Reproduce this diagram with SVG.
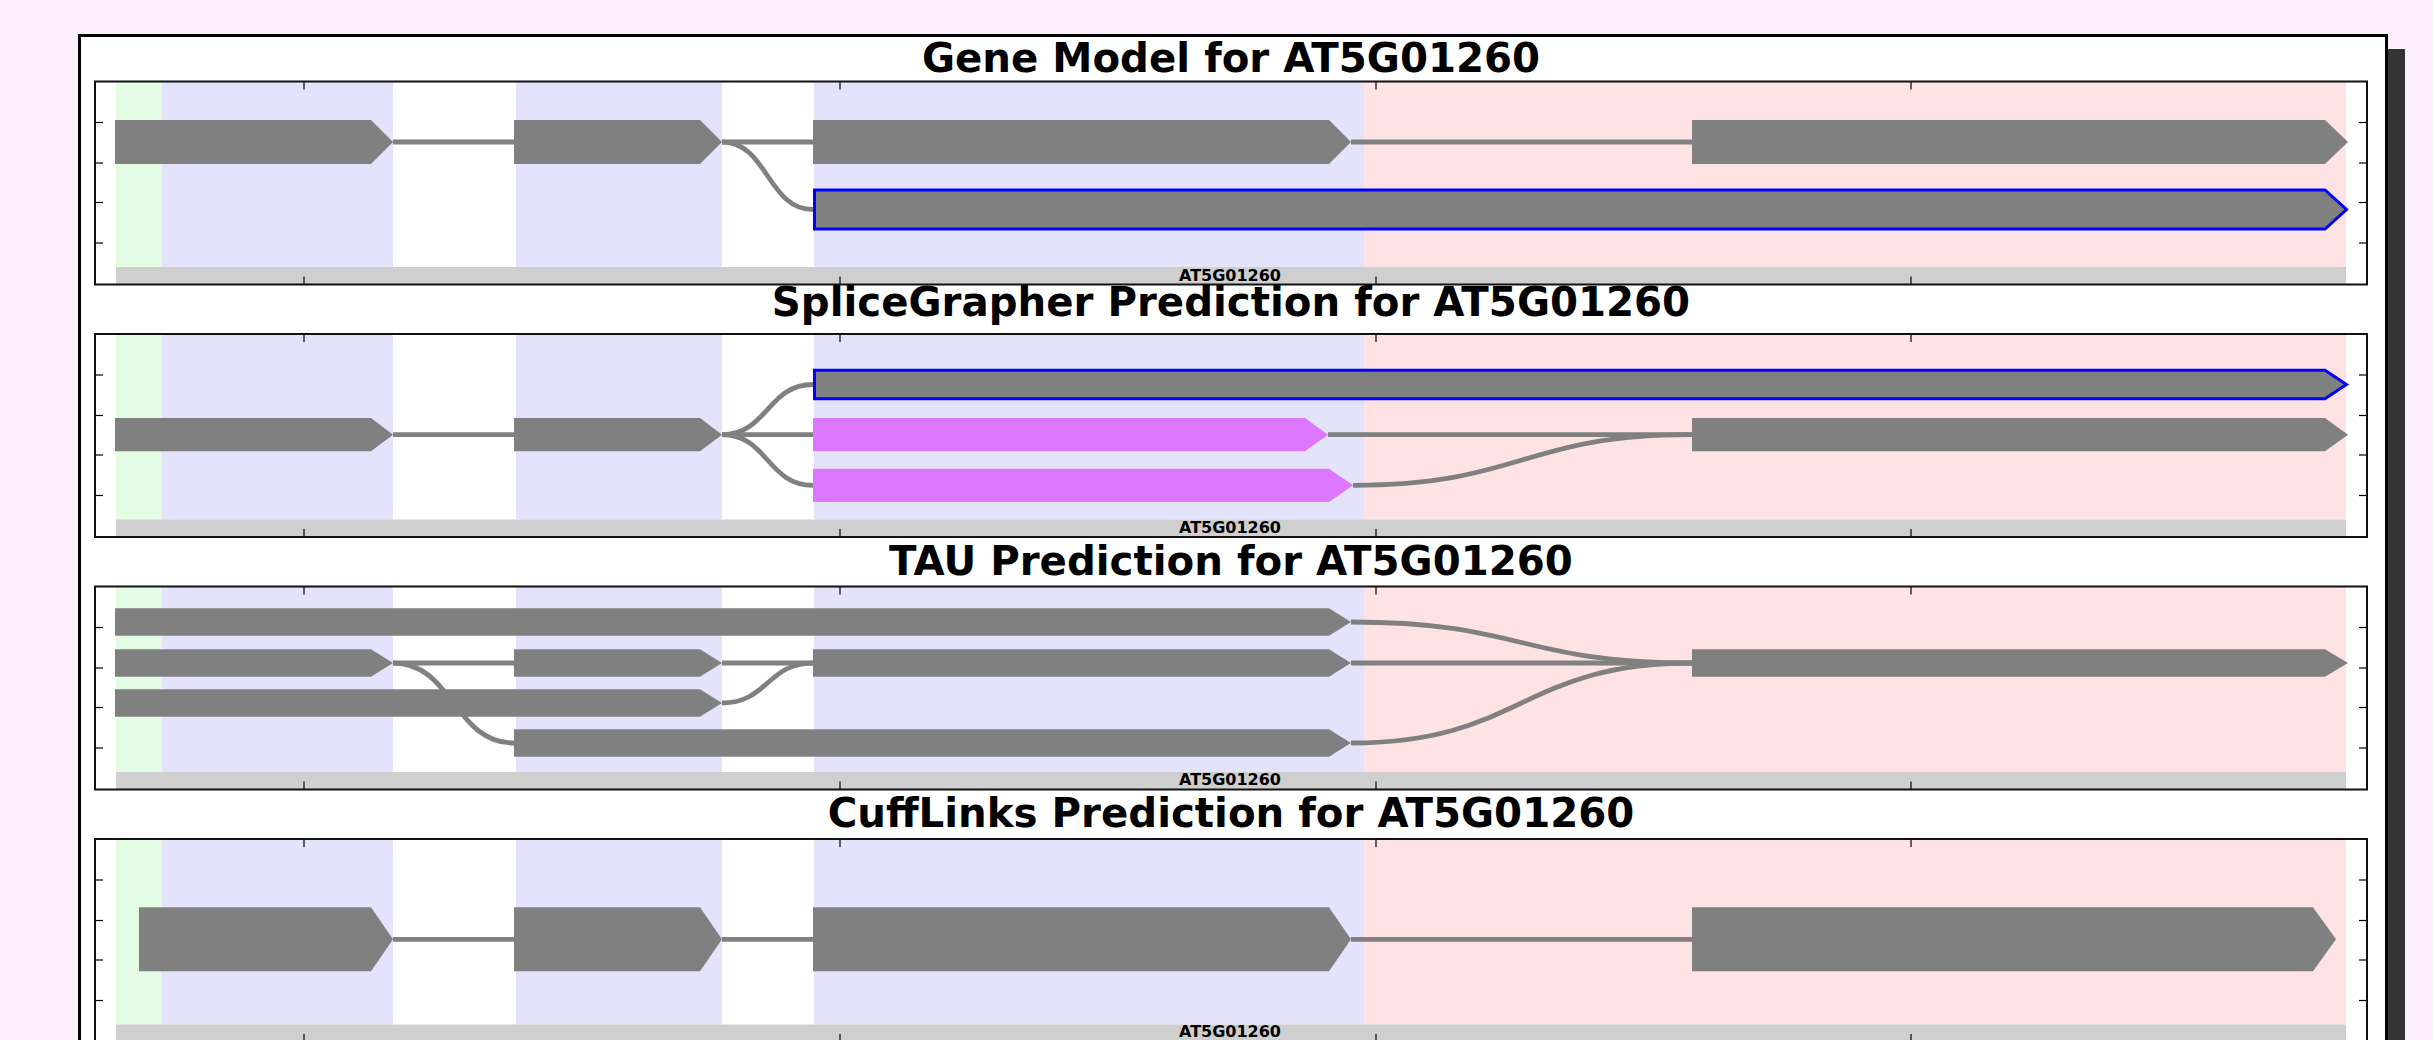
<svg xmlns="http://www.w3.org/2000/svg" xmlns:xlink="http://www.w3.org/1999/xlink" width="2433" height="1040" viewBox="0 0 2433 1040">
<style>
.title{font-family:"DejaVu Sans","Liberation Sans",sans-serif;font-weight:bold;font-size:40.3px;fill:#000;text-anchor:middle}
.lbl{font-family:"DejaVu Sans","Liberation Sans",sans-serif;font-weight:bold;font-size:16px;fill:#000;text-anchor:middle}
.exon{fill:#808080}
.pred{fill:#DD77FF}
.sel{fill:#808080;stroke:#0000FF;stroke-width:3;stroke-linejoin:miter}
.intron{fill:none;stroke:#808080;stroke-width:4.8}
.tick{stroke:#000;stroke-width:1.2}
</style>
<defs>
<g id="panelBg">
<rect x="95" y="0" width="2272" height="203" fill="#FFFFFF"/>
<rect x="116" y="0" width="46" height="185.5" fill="#E3FCE3"/>
<rect x="162" y="0" width="231" height="185.5" fill="#E3E3FC"/>
<rect x="516" y="0" width="206" height="185.5" fill="#E3E3FC"/>
<rect x="814" y="0" width="550" height="185.5" fill="#E3E3FC"/>
<rect x="1364" y="0" width="982" height="185.5" fill="#FFE3E4"/>
<rect x="116" y="185.5" width="2230" height="17.5" fill="#CFCFCF"/>
</g>
<g id="panelFrame">
<g class="tick">
<line x1="304" y1="0" x2="304" y2="8"/><line x1="840" y1="0" x2="840" y2="8"/><line x1="1376" y1="0" x2="1376" y2="8"/><line x1="1911" y1="0" x2="1911" y2="8"/>
<line x1="304" y1="195" x2="304" y2="203"/><line x1="840" y1="195" x2="840" y2="203"/><line x1="1376" y1="195" x2="1376" y2="203"/><line x1="1911" y1="195" x2="1911" y2="203"/>
<line x1="95" y1="41" x2="103" y2="41"/><line x1="95" y1="81.5" x2="103" y2="81.5"/><line x1="95" y1="121" x2="103" y2="121"/><line x1="95" y1="161.5" x2="103" y2="161.5"/>
<line x1="2359" y1="41" x2="2367" y2="41"/><line x1="2359" y1="81.5" x2="2367" y2="81.5"/><line x1="2359" y1="121" x2="2367" y2="121"/><line x1="2359" y1="161.5" x2="2367" y2="161.5"/>
</g>
<rect x="95" y="0" width="2272" height="203" fill="none" stroke="#111" stroke-width="2"/>
</g>
</defs>

<rect x="0" y="0" width="2433" height="1040" fill="#FDEEFE"/>
<rect x="94" y="49" width="2311" height="1100" fill="#333333"/>
<rect x="79.5" y="35.5" width="2307" height="1100" fill="#FFFFFF" stroke="#000" stroke-width="3"/>

<!-- backgrounds -->
<use xlink:href="#panelBg" href="#panelBg" y="81.5"/>
<use xlink:href="#panelBg" href="#panelBg" y="334"/>
<use xlink:href="#panelBg" href="#panelBg" y="586.5"/>
<use xlink:href="#panelBg" href="#panelBg" y="839"/>

<!-- connectors -->
<g id="connectors" class="intron">
<path d="M393 142H514M722 142H813M1351 142H1692"/>
<path d="M722 142C767.5 142 767.5 209.5 813 209.5"/>
<path d="M393 434.7H514M722 434.7H813M1328 434.7H1692"/>
<path d="M722 434.7C767.5 434.7 767.5 384.5 813 384.5"/>
<path d="M722 434.7C767.5 434.7 767.5 485.3 813 485.3"/>
<path d="M1353 485.3C1522 485.3 1522 434.7 1692 434.7"/>
<path d="M393 663H514M722 663H813M1351 663H1692"/>
<path d="M393 663C453.5 663 453.5 743 514 743"/>
<path d="M722 703C767.5 703 767.5 663 813 663"/>
<path d="M1351 622C1521.5 622 1521.5 663 1692 663"/>
<path d="M1351 743C1521.5 743 1521.5 663 1692 663"/>
<path d="M393 939.3H514M722 939.3H813M1351 939.3H1692"/>
</g>

<g id="panel-gene-model">
<text class="title" x="1231" y="71.5">Gene Model for AT5G01260</text>
<polygon class="exon" points="115,120 371,120 393,142 371,164 115,164"/>
<polygon class="exon" points="514,120 700,120 722,142 700,164 514,164"/>
<polygon class="exon" points="813,120 1329,120 1351,142 1329,164 813,164"/>
<polygon class="exon" points="1692,120 2325,120 2348,142 2325,164 1692,164"/>
<polygon class="sel" points="814.5,190 2325,190 2346.5,209.5 2325,229 814.5,229"/>
<text class="lbl" x="1230" y="280.5">AT5G01260</text>
</g>

<g id="panel-splicegrapher">
<text class="title" x="1231" y="316">SpliceGrapher Prediction for AT5G01260</text>
<polygon class="sel" points="814.5,370.3 2325,370.3 2346.5,384.5 2325,398.7 814.5,398.7"/>
<polygon class="exon" points="115,418 371,418 393,434.7 371,451.3 115,451.3"/>
<polygon class="exon" points="514,418 700,418 722,434.7 700,451.3 514,451.3"/>
<polygon class="pred" points="813,418 1305,418 1328,434.7 1305,451.3 813,451.3"/>
<polygon class="exon" points="1692,418 2325,418 2348,434.7 2325,451.3 1692,451.3"/>
<polygon class="pred" points="813,468.7 1329,468.7 1353,485.3 1329,502 813,502"/>
<text class="lbl" x="1230" y="533">AT5G01260</text>
</g>

<g id="panel-tau">
<text class="title" x="1231" y="575">TAU Prediction for AT5G01260</text>
<polygon class="exon" points="115,608.3 1329,608.3 1351,622 1329,635.7 115,635.7"/>
<polygon class="exon" points="115,649.3 371,649.3 393,663 371,676.7 115,676.7"/>
<polygon class="exon" points="514,649.3 700,649.3 722,663 700,676.7 514,676.7"/>
<polygon class="exon" points="813,649.3 1329,649.3 1351,663 1329,676.7 813,676.7"/>
<polygon class="exon" points="1692,649.3 2325,649.3 2348,663 2325,676.7 1692,676.7"/>
<polygon class="exon" points="115,689.3 700,689.3 722,703 700,716.7 115,716.7"/>
<polygon class="exon" points="514,729.3 1329,729.3 1351,743 1329,756.7 514,756.7"/>
<text class="lbl" x="1230" y="785">AT5G01260</text>
</g>

<g id="panel-cufflinks">
<text class="title" x="1231" y="827">CuffLinks Prediction for AT5G01260</text>
<polygon class="exon" points="139,907.3 371,907.3 393,939.3 371,971.3 139,971.3"/>
<polygon class="exon" points="514,907.3 700,907.3 722,939.3 700,971.3 514,971.3"/>
<polygon class="exon" points="813,907.3 1329,907.3 1351,939.3 1329,971.3 813,971.3"/>
<polygon class="exon" points="1692,907.3 2313,907.3 2336,939.3 2313,971.3 1692,971.3"/>
<text class="lbl" x="1230" y="1037">AT5G01260</text>
</g>

<!-- axes frames and ticks -->
<use xlink:href="#panelFrame" href="#panelFrame" y="81.5"/>
<use xlink:href="#panelFrame" href="#panelFrame" y="334"/>
<use xlink:href="#panelFrame" href="#panelFrame" y="586.5"/>
<use xlink:href="#panelFrame" href="#panelFrame" y="839"/>
</svg>
